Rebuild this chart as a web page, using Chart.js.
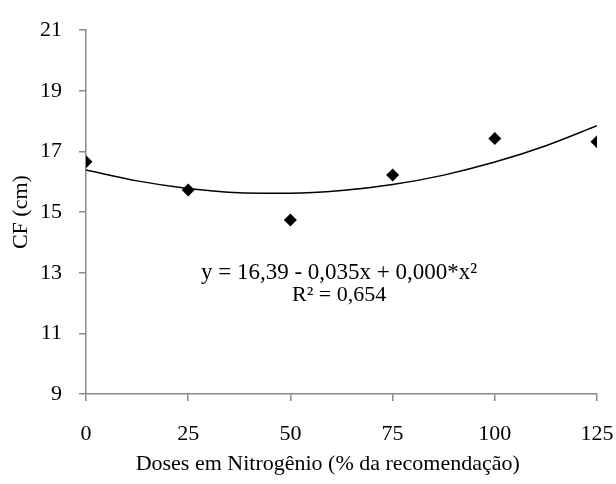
<!DOCTYPE html>
<html>
<head>
<meta charset="utf-8">
<script src="https://cdn.jsdelivr.net/npm/chart.js@4/dist/chart.umd.min.js"></script>
<style>
  html, body { margin: 0; padding: 0; background: #fff; }
  #wrap { width: 616px; height: 484px; }
</style>
</head>
<body>
<div id="wrap"><canvas id="cfChart" width="616" height="484"></canvas></div>
<script>
const doses = [0, 25, 50, 75, 100, 125];
const cfValues = [16.66, 15.73, 14.74, 16.22, 17.43, 17.32];

// Trend curve as drawn in the figure
const trendX = [0, 12.5, 25, 37.5, 50, 62.5, 75, 87.5, 100, 112.5, 125];
const trendY = [16.39, 16.03, 15.78, 15.64, 15.62, 15.71, 15.91, 16.22, 16.65, 17.19, 17.85];

const yTicks = [9, 11, 13, 15, 17, 19, 21];
const equationLines = ['y = 16,39 - 0,035x + 0,000*x²', 'R² = 0,654'];

const serif = '"Liberation Serif", "DejaVu Serif", serif';
const axisGray = '#8a8a8a';
const fontSize = 22;

// Equation text drawn at a data position
const equationPlugin = {
    id: 'equation',
    afterDatasetsDraw(chart) {
        const ctx = chart.ctx;
        const x = chart.scales.x.getPixelForValue(61.9);
        const y = chart.scales.y.getPixelForValue(13.0);
        ctx.save();
        ctx.fillStyle = '#000';
        ctx.textAlign = 'center';
        ctx.textBaseline = 'middle';
        ctx.font = '23px ' + serif;
        ctx.fillText(equationLines[0], x, y);
        ctx.font = fontSize + 'px ' + serif;
        ctx.fillText(equationLines[1], x, y + 22);
        ctx.restore();
    }
};

document.addEventListener('DOMContentLoaded', function() {
    const canvas = document.getElementById('cfChart');
    new Chart(canvas.getContext('2d'), {
        type: 'scatter',
        data: {
            datasets: [{
                label: 'CF',
                data: doses.map((d, i) => ({ x: d, y: cfValues[i] })),
                pointStyle: 'rectRot',
                pointRadius: 6.5,
                backgroundColor: '#000',
                borderColor: '#000',
                borderWidth: 0,
                showLine: false
            }, {
                label: 'Tendência',
                data: trendX.map((d, i) => ({ x: d, y: trendY[i] })),
                showLine: true,
                pointRadius: 0,
                borderColor: '#000',
                borderWidth: 1.5,
                cubicInterpolationMode: 'monotone'
            }]
        },
        options: {
            responsive: false,
            animation: false,
            layout: { padding: { top: 17, right: 0, left: 0, bottom: 6 } },
            plugins: {
                legend: { display: false },
                tooltip: { enabled: false }
            },
            scales: {
                x: {
                    type: 'linear',
                    min: 0,
                    max: 125,
                    // fixed axis box so the plot area matches the figure
                    afterFit: axis => { axis.height = 84; axis.paddingRight = 19; },
                    border: { color: axisGray, width: 1.5 },
                    grid: { drawOnChartArea: false, drawTicks: true, tickLength: 7, color: axisGray, lineWidth: 1.5 },
                    ticks: { stepSize: 25, padding: 20, color: '#000', font: { family: serif, size: fontSize } },
                    title: {
                        display: true,
                        // trailing spaces shift the centred title left, as in the figure
                        text: 'Doses em Nitrogênio (% da recomendação)     ',
                        color: '#000',
                        font: { family: serif, size: fontSize },
                        padding: { top: 9, bottom: 1 }
                    }
                },
                y: {
                    min: 9,
                    max: 21,
                    afterBuildTicks: axis => { axis.ticks = yTicks.map(v => ({ value: v })); },
                    afterFit: axis => { axis.width = 86; },
                    border: { color: axisGray, width: 1.5 },
                    grid: { drawOnChartArea: false, drawTicks: true, tickLength: 7, color: axisGray, lineWidth: 1.5 },
                    ticks: { padding: 17, color: '#000', font: { family: serif, size: fontSize } },
                    title: {
                        display: true,
                        text: 'CF (cm)',
                        color: '#000',
                        font: { family: serif, size: fontSize },
                        padding: { top: 8, bottom: 5 }
                    }
                }
            }
        },
        plugins: [equationPlugin]
    });
});
</script>
</body>
</html>
